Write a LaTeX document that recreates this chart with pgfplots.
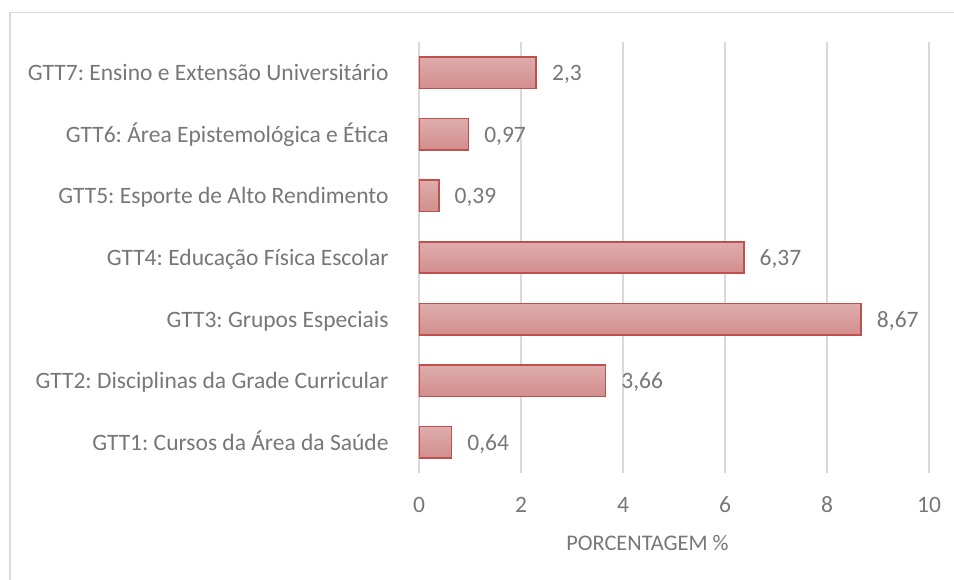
\documentclass[border=0pt]{standalone}
\usepackage{fontspec}
\setmainfont{Carlito}
\usepackage{pgfplots}
\pgfplotsset{compat=1.18}

\definecolor{txt}{HTML}{777777}
\definecolor{gridc}{HTML}{D9D9D9}
\definecolor{bartop}{HTML}{DEADAC}
\definecolor{barbot}{HTML}{D28E8D}
\definecolor{barline}{HTML}{C0504D}

\newcommand{\fnt}{\fontsize{23.5}{28}\selectfont}
\pgfplotsset{gbar/.style={top color=bartop, bottom color=barbot, draw=barline, line width=1.6pt}}

\begin{document}
\frenchspacing
\begin{tikzpicture}
\useasboundingbox (0,0) rectangle (954pt,579pt);
% outer chart frame (right and bottom edges fall outside the picture)
\draw[gridc, line width=1.3pt] (10pt,-5pt) |- (970pt,566.5pt);

\begin{axis}[
  at={(419pt,106pt)}, anchor=south west,
  scale only axis,
  width=510pt, height=431pt,
  xbar, bar width=31.5pt, bar shift=0pt,
  xmin=0, xmax=10,
  ymin=-0.5, ymax=6.5,
  xtick={0,2,...,10},
  ytick={0,...,6},
  yticklabels={
    GTT1: Cursos da Área da Saúde,
    GTT2: Disciplinas da Grade Curricular,
    GTT3: Grupos Especiais,
    GTT4: Educação Física Escolar,
    GTT5: Esporte de Alto Rendimento,
    GTT6: Área Epistemológica e Ética,
    GTT7: Ensino e Extensão Universitário},
  axis line style={draw=none},
  tick style={draw=none},
  xmajorgrids,
  grid style={gridc, line width=1.6pt},
  /pgf/number format/assume math mode=true,
  /pgf/number format/use comma,
  xticklabel style={font=\fnt, text=txt, inner sep=0pt, anchor=base, yshift=-39.5pt},
  yticklabel style={font=\fnt, text=txt, inner sep=0pt, anchor=base east, xshift=-26pt, yshift=-8pt},
  xlabel={PORCENTAGEM \%},
  xlabel style={font=\fontsize{22.3}{26}\selectfont, text=txt, inner sep=0pt,
    at={(axis description cs:0.448,0)}, anchor=base, yshift=-77pt},
  point meta=x,
  nodes near coords,
  nodes near coords style={font=\fnt, text=txt, inner sep=0pt, anchor=base west, xshift=15pt, yshift=-8pt},
]
% one plot per bar so that each bar gets its own gradient
\addplot[gbar] coordinates {(0.64,0)};
\addplot[gbar] coordinates {(3.66,1)};
\addplot[gbar] coordinates {(8.67,2)};
\addplot[gbar] coordinates {(6.37,3)};
\addplot[gbar] coordinates {(0.39,4)};
\addplot[gbar] coordinates {(0.97,5)};
\addplot[gbar] coordinates {(2.3,6)};
\end{axis}
\end{tikzpicture}
\end{document}
